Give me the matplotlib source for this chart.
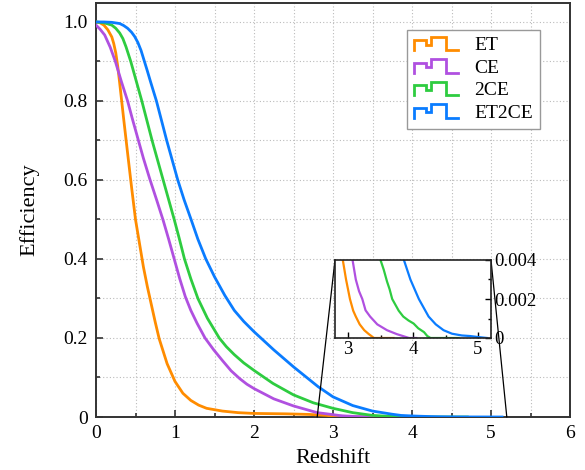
import matplotlib
matplotlib.use("Agg")
import matplotlib.pyplot as plt
import numpy as np
from matplotlib.legend_handler import HandlerBase
from matplotlib.lines import Line2D
from matplotlib.patches import ConnectionPatch
from matplotlib.ticker import MultipleLocator, FixedLocator

plt.rcParams["font.family"] = ["Liberation Serif", "DejaVu Serif"]

# ---- data ----
labels = ["ET", "CE", "2CE", "ET2CE"]
colors = ["#ff8c00", "#b050e0", "#2ecc40", "#0a7cff"]

z_et = [0.00, 0.05, 0.10, 0.15, 0.20, 0.225, 0.25, 0.275, 0.30, 0.35, 0.40, 0.45,
        0.50, 0.55, 0.60, 0.65, 0.70, 0.75, 0.80, 0.90, 1.00, 1.10, 1.20, 1.30,
        1.40, 1.60, 1.80, 2.00, 2.40, 2.70, 2.92, 2.97, 3.03, 3.08, 3.12, 3.18,
        3.25, 3.32, 3.40, 3.70]
eff_et = [1.000, 0.998, 0.992, 0.980, 0.962, 0.945, 0.922, 0.888, 0.845, 0.755,
          0.668, 0.582, 0.500, 0.440, 0.380, 0.330, 0.285, 0.240, 0.198, 0.135,
          0.090, 0.060, 0.042, 0.030, 0.022, 0.015, 0.011, 0.009, 0.008, 0.0065,
          0.0040, 0.0030, 0.0020, 0.0014, 0.0011, 0.0007, 0.0004, 0.0002, 0.0,
          0.0]

z_ce = [0.00, 0.05, 0.11, 0.18, 0.245, 0.32, 0.40, 0.46, 0.53, 0.60, 0.68, 0.77,
        0.85, 0.92, 0.99, 1.06, 1.13, 1.20, 1.28, 1.38, 1.49, 1.60, 1.71, 1.82,
        1.91, 2.00, 2.25, 2.50, 2.80, 3.00, 3.07, 3.12, 3.17, 3.22, 3.27, 3.34,
        3.45, 3.60, 3.75, 3.94, 4.05]
eff_ce = [0.992, 0.982, 0.967, 0.936, 0.900, 0.850, 0.800, 0.755, 0.705, 0.655,
          0.603, 0.548, 0.498, 0.450, 0.400, 0.350, 0.305, 0.270, 0.237, 0.200,
          0.170, 0.143, 0.117, 0.097, 0.083, 0.072, 0.046, 0.028, 0.011, 0.006,
          0.004, 0.003, 0.0024, 0.0020, 0.00142, 0.0011, 0.0007, 0.0004, 0.0002,
          0.0, 0.0]

z_2ce = [0.00, 0.10, 0.20, 0.25, 0.30, 0.34, 0.38, 0.44, 0.51, 0.58, 0.645, 0.71,
         0.78, 0.85, 0.92, 0.99, 1.05, 1.12, 1.20, 1.29, 1.41, 1.56, 1.65, 1.75,
         1.87, 2.00, 2.24, 2.50, 2.75, 3.00, 3.25, 3.50, 3.55, 3.60, 3.64, 3.68,
         3.73, 3.78, 3.85, 3.93, 4.01, 4.08, 4.17, 4.22, 4.27, 4.70]
eff_2ce = [1.000, 0.998, 0.992, 0.984, 0.972, 0.958, 0.937, 0.900, 0.850, 0.800,
           0.750, 0.700, 0.650, 0.600, 0.550, 0.500, 0.455, 0.400, 0.350, 0.300,
           0.250, 0.200, 0.178, 0.158, 0.137, 0.118, 0.085, 0.056, 0.036, 0.022,
           0.011, 0.004, 0.0035, 0.0029, 0.0025, 0.0020, 0.0017, 0.0014, 0.0011,
           0.0009, 0.00074, 0.0005, 0.0003, 0.0001, 0.0, 0.0]

z_et2ce = [0.00, 0.10, 0.20, 0.30, 0.35, 0.40, 0.45, 0.49, 0.53, 0.57, 0.61, 0.65,
           0.69, 0.765, 0.83, 0.895, 0.965, 1.035, 1.115, 1.20, 1.29, 1.39, 1.50,
           1.63, 1.75, 1.87, 2.00, 2.25, 2.50, 2.81, 3.00, 3.25, 3.50, 3.75, 3.86,
           3.96, 4.09, 4.24, 4.35, 4.47, 4.60, 4.75, 4.88, 5.00, 5.14]
eff_et2ce = [1.000, 1.000, 0.999, 0.996, 0.991, 0.984, 0.974, 0.963, 0.948,
             0.928, 0.902, 0.876, 0.849, 0.800, 0.750, 0.700, 0.650, 0.600,
             0.550, 0.502, 0.450, 0.400, 0.355, 0.308, 0.270, 0.242, 0.216,
             0.170, 0.127, 0.077, 0.051, 0.029, 0.015, 0.007, 0.004, 0.003,
             0.002, 0.0011, 0.0007, 0.0004, 0.00022, 0.00013, 0.0001, 0.00005,
             0.0]

series = [(z_et, eff_et), (z_ce, eff_ce), (z_2ce, eff_2ce), (z_et2ce, eff_et2ce)]

x_ticks = [0, 1, 2, 3, 4, 5, 6]
y_ticks = [0, 0.2, 0.4, 0.6, 0.8, 1.0]
y_ticklabels = ["0", "0.2", "0.4", "0.6", "0.8", "1.0"]
inset_xlim = (2.8, 5.2)
inset_ylim = (0, 0.004)
inset_xticks = [3, 4, 5]
inset_yticks = [0, 0.002, 0.004]
inset_yticklabels = ["0", "0.002", "0.004"]


class StepHandler(HandlerBase):
    # origin-style step icon in the legend
    sx = [0.0, 0.0, 0.27, 0.27, 0.38, 0.38, 0.72, 0.72, 1.0]
    sy = [0.0, 0.75, 0.75, 0.4, 0.4, 1.0, 1.0, 0.0, 0.0]

    def create_artists(self, legend, orig_handle, xdescent, ydescent,
                       width, height, fontsize, trans):
        xs = np.array(self.sx) * width - xdescent
        ys = np.array(self.sy) * height - ydescent
        ln = Line2D(xs, ys, color=orig_handle.get_color(), lw=2.0,
                    solid_joinstyle="miter", transform=trans)
        return [ln]


fig = plt.figure(figsize=(5.85, 4.7), dpi=100)
ax = fig.add_axes([96 / 585, 1 - 417 / 470, 474 / 585, 414 / 470])

handles = []
for (z, e), c, lab in zip(series, colors, labels):
    h, = ax.plot(z, e, color=c, lw=2.0, label=lab, zorder=3,
                 solid_joinstyle="round")
    handles.append(h)

ax.set_xlim(0, 6)
ax.set_ylim(0, 1.048)
ax.xaxis.set_major_locator(FixedLocator(x_ticks))
ax.xaxis.set_minor_locator(MultipleLocator(0.5))
ax.set_yticks(y_ticks)
ax.set_yticklabels(y_ticklabels)
ax.yaxis.set_minor_locator(MultipleLocator(0.1))
ax.tick_params(which="both", direction="in", top=False, right=False,
               labelsize=14, color="#333333", width=1.2, pad=6)
ax.tick_params(which="major", length=5)
ax.tick_params(which="minor", length=3)
ax.grid(True, which="both", color="#bbbbbb", linestyle=(0, (1, 2)), lw=0.8)
for s in ax.spines.values():
    s.set_color("#333333")
    s.set_linewidth(1.4)
ax.set_xlabel("Redshift", fontsize=16, labelpad=5)
ax.set_ylabel("Efficiency", fontsize=16, labelpad=17)

leg = ax.legend(handles=handles, labels=labels, loc="upper left",
                bbox_to_anchor=(0.656, 0.935), fontsize=14, frameon=True,
                fancybox=False, edgecolor="#999999", framealpha=1,
                handler_map={Line2D: StepHandler()}, handlelength=2.3,
                handleheight=0.7, handletextpad=0.8, labelspacing=0.25,
                borderpad=0.35, borderaxespad=0)
leg.get_frame().set_linewidth(1.0)

# inset zoom on the tail
axins = ax.inset_axes([(335 - 96) / 474, (417 - 338) / 414, 156 / 474, 78 / 414])
axins.set_zorder(5)
for (z, e), c in zip(series, colors):
    axins.plot(z, e, color=c, lw=1.6, solid_joinstyle="round")
axins.set_xlim(*inset_xlim)
axins.set_ylim(*inset_ylim)
axins.xaxis.set_major_locator(FixedLocator(inset_xticks))
axins.xaxis.set_minor_locator(MultipleLocator(0.5))
axins.set_yticks(inset_yticks)
axins.set_yticklabels(inset_yticklabels)
axins.yaxis.set_minor_locator(MultipleLocator(0.001))
axins.yaxis.tick_right()
axins.tick_params(which="both", direction="in", labelsize=13.5, pad=2,
                  left=False, right=True, top=False, bottom=True, width=1.0)
axins.tick_params(which="major", length=4)
axins.tick_params(which="minor", length=2.5)
for s in axins.spines.values():
    s.set_color("#222222")
    s.set_linewidth(1.2)

for xv in inset_xlim:
    con = ConnectionPatch(xyA=(xv, 0), coordsA=ax.transData,
                          xyB=(xv, inset_ylim[1]), coordsB=axins.transData,
                          color="black", lw=0.9, zorder=4)
    ax.add_artist(con)

fig.savefig("out.png", dpi=100)
